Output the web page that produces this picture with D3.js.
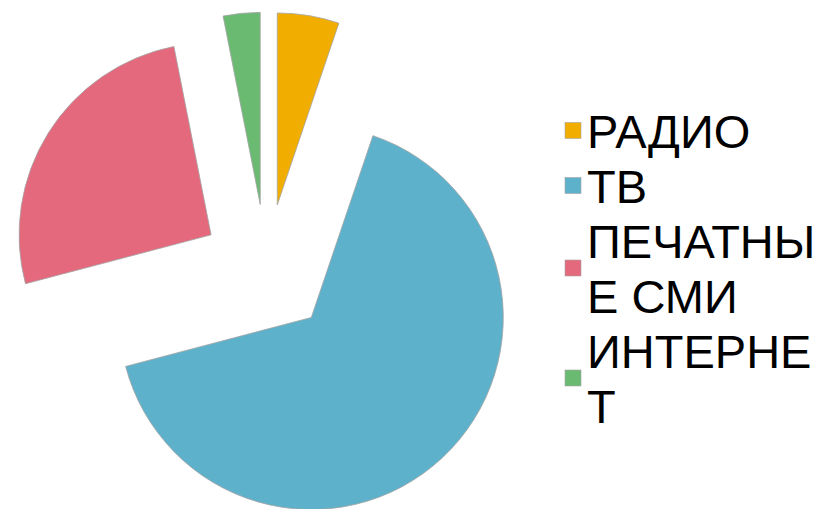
<!DOCTYPE html>
<html>
<head>
<meta charset="utf-8">
<script src="https://cdn.jsdelivr.net/npm/d3@7"></script>
<style>
  html, body { margin: 0; padding: 0; background: #fff; }
  svg { display: block; }
</style>
</head>
<body>
<div id="chart"></div>
<script>
// Data (share of each medium, %)
var categories = ["РАДИО", "ТВ", "ПЕЧАТНЫЕ СМИ", "ИНТЕРНЕТ"];
var values = [5.2, 65.7, 26, 3.1];
var colors = ["#F1AE00", "#5EB1CB", "#E4697D", "#6BBA72"];

var width = 825, height = 509;

var svg = d3.select("#chart").append("svg")
    .attr("width", width)
    .attr("height", height);

// Pie geometry
var cx = 266.6, cy = 269.6;
var radius = 192;
var explode = 65.5;

var pie = d3.pie().sort(null).value(function(d) { return d; });
var arc = d3.arc().innerRadius(0).outerRadius(radius);

var slices = svg.append("g")
    .attr("transform", "translate(" + cx + "," + cy + ")")
    .selectAll("path").data(pie(values))
    .enter().append("path")
    .attr("d", arc)
    .attr("fill", function(d, i) { return colors[i]; })
    .attr("stroke", "#a3a3a3")
    .attr("stroke-width", 0.8)
    .attr("transform", function(d) {
        // push each slice out along its bisector
        var a = (d.startAngle + d.endAngle) / 2;
        return "translate(" + (Math.sin(a) * explode) + "," + (-Math.cos(a) * explode) + ")";
    });

// Legend
var fontSize = 47, lineH = 55, maxW = 240;
var legendX = 587, firstTop = 114;
var legend = svg.append("g").attr("class", "legend");

var y = firstTop;
categories.forEach(function(name, i) {
    var g = legend.append("g");
    var text = g.append("text")
        .attr("font-family", "'Liberation Sans', Arial, sans-serif")
        .attr("font-size", fontSize)
        .attr("fill", "#000");

    // break on characters the way the original legend does
    var lines = [], cur = "";
    name.split("").forEach(function(ch) {
        var test = cur + ch;
        text.text(test);
        if (text.node().getComputedTextLength() > maxW && cur.length) {
            lines.push(cur);
            cur = ch;
        } else {
            cur = test;
        }
    });
    lines.push(cur);
    text.text(null);

    lines.forEach(function(l, k) {
        text.append("tspan")
            .attr("x", legendX)
            .attr("y", y + 34 + k * lineH)
            .text(l);
    });

    var blockH = (lines.length - 1) * lineH + 34;
    var mid = y + blockH / 2;
    g.append("rect")
        .attr("x", 565)
        .attr("y", mid - 8.5)
        .attr("width", 16)
        .attr("height", 16)
        .attr("fill", colors[i])
        .attr("stroke", "#a3a3a3")
        .attr("stroke-width", 0.6);

    y += lines.length * lineH;
});
</script>
</body>
</html>
